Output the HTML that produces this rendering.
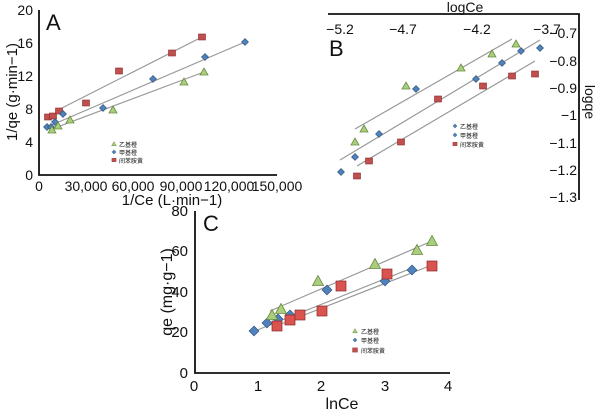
<!DOCTYPE html>
<html><head><meta charset="utf-8"><style>
html,body{margin:0;padding:0;background:#fff;width:600px;height:413px;overflow:hidden}
svg{display:block}
text{font-family:"Liberation Sans","Noto Sans CJK SC",sans-serif;fill:#111}
.t{font-size:14px}
.lg{font-size:6px}
.ln{stroke:#999;stroke-width:1.2}
.ax{stroke:#111;stroke-width:1.8;fill:none}
</style></head><body>
<svg width="600" height="413" viewBox="0 0 600 413">
<defs>
<g id="tri"><polygon points="0,-4 4,3 -4,3" fill="#a9cf7e" stroke="#6b8a3f" stroke-width="0.8"/></g>
<g id="dia"><polygon points="0,-3.5 3.5,0 0,3.5 -3.5,0" fill="#4f81bd" stroke="#2c4d74" stroke-width="0.6"/></g>
<g id="sq"><rect x="-3.5" y="-3" width="7" height="6" fill="#c0504d" stroke="#8a2a28" stroke-width="0.6"/></g>
<g id="triL"><polygon points="0,-5.5 5.5,4.5 -5.5,4.5" fill="#a9cf7e" stroke="#6b8a3f" stroke-width="0.8"/></g>
<g id="diaL"><polygon points="0,-5 5,0 0,5 -5,0" fill="#4f81bd" stroke="#2c4d74" stroke-width="0.6"/></g>
<g id="sqL"><rect x="-5" y="-5" width="10" height="10" fill="#d9534f" stroke="#8a2a28" stroke-width="0.7"/></g>
</defs>

<!-- Panel A -->
<path class="ax" d="M39,10 L39,175 L277,175"/>
<g class="t" text-anchor="end">
<text x="33" y="15">20</text><text x="33" y="48">16</text><text x="33" y="81">12</text>
<text x="33" y="114">8</text><text x="33" y="147">4</text><text x="33" y="180">0</text>
</g>
<g class="t" text-anchor="middle">
<text x="39" y="191">0</text><text x="86" y="191">30,000</text><text x="133" y="191">60,000</text>
<text x="181" y="191">90,000</text><text x="229" y="191">120,000</text><text x="277" y="191">150,000</text>
</g>
<text x="172" y="205" text-anchor="middle" style="font-size:15px">1/Ce (L·min−1)</text>
<text transform="translate(17,92) rotate(-90)" text-anchor="middle" style="font-size:15px">1/qe (g·min−1)</text>
<text x="46" y="30" style="font-size:22px">A</text>
<line class="ln" x1="58" y1="110" x2="202" y2="37"/>
<line class="ln" x1="47" y1="127" x2="245" y2="42"/>
<line class="ln" x1="52" y1="129" x2="204" y2="72"/>
<use href="#sq" x="48" y="117"/><use href="#sq" x="53" y="116"/><use href="#sq" x="59" y="111"/><use href="#sq" x="86" y="103"/><use href="#sq" x="119" y="71"/><use href="#sq" x="172" y="53"/><use href="#sq" x="202" y="37"/>
<use href="#dia" x="47" y="127"/><use href="#dia" x="51" y="127"/><use href="#dia" x="55" y="122"/><use href="#dia" x="63" y="114"/><use href="#dia" x="103" y="108"/><use href="#dia" x="153" y="79"/><use href="#dia" x="205" y="57"/><use href="#dia" x="245" y="42"/>
<use href="#tri" x="52" y="130"/><use href="#tri" x="58" y="126"/><use href="#tri" x="70" y="120"/><use href="#tri" x="113" y="110"/><use href="#tri" x="184" y="82"/><use href="#tri" x="204" y="72"/>
<g transform="translate(114,144) scale(0.6)"><use href="#tri"/></g>
<g transform="translate(114,152) scale(0.6)"><use href="#dia"/></g>
<g transform="translate(114,160) scale(0.6)"><use href="#sq"/></g>
<text class="lg" x="119" y="147">乙基橙</text><text class="lg" x="119" y="155">甲基橙</text><text class="lg" x="119" y="163">间苯胺黄</text>

<!-- Panel B -->
<path class="ax" d="M328,14 L579,14 L579,200"/>
<g class="t" text-anchor="middle">
<text x="340" y="34">−5.2</text><text x="403" y="34">−4.7</text><text x="477" y="34">−4.2</text><text x="547" y="34">−3.7</text>
</g>
<text x="465" y="12" text-anchor="middle" style="font-size:14px">logCe</text>
<g class="t" text-anchor="end">
<text x="577" y="38">−0.7</text><text x="577" y="66">−0.8</text><text x="577" y="93">−0.9</text><text x="577" y="120">−1</text>
<text x="577" y="148">−1.1</text><text x="577" y="175">−1.2</text><text x="577" y="202">−1.3</text>
</g>
<text transform="translate(585,102) rotate(90)" text-anchor="middle" style="font-size:14px">logqe</text>
<text x="329" y="56" style="font-size:22px">B</text>
<line class="ln" x1="355" y1="129" x2="512" y2="39"/>
<line class="ln" x1="340" y1="160" x2="540" y2="40"/>
<line class="ln" x1="357" y1="166" x2="535" y2="61"/>
<use href="#tri" x="355" y="142"/><use href="#tri" x="364" y="129"/><use href="#tri" x="406" y="86"/><use href="#tri" x="461" y="68"/><use href="#tri" x="492" y="54"/><use href="#tri" x="516" y="44"/>
<use href="#dia" x="341" y="172"/><use href="#dia" x="355" y="157"/><use href="#dia" x="379" y="134"/><use href="#dia" x="416" y="89"/><use href="#dia" x="476" y="79"/><use href="#dia" x="502" y="63"/><use href="#dia" x="521" y="51"/><use href="#dia" x="540" y="48"/>
<use href="#sq" x="357" y="176"/><use href="#sq" x="369" y="161"/><use href="#sq" x="401" y="142"/><use href="#sq" x="438" y="99"/><use href="#sq" x="483" y="86"/><use href="#sq" x="512" y="76"/><use href="#sq" x="535" y="74"/>
<g transform="translate(455,126) scale(0.6)"><use href="#dia"/></g>
<g transform="translate(455,135) scale(0.6)"><use href="#dia"/></g>
<g transform="translate(455,144) scale(0.6)"><use href="#sq"/></g>
<text class="lg" x="460" y="129">乙基橙</text><text class="lg" x="460" y="138">甲基橙</text><text class="lg" x="460" y="147">间苯胺黄</text>

<!-- Panel C -->
<path class="ax" d="M195,211 L195,373 L450,373"/>
<g class="t" text-anchor="end" style="font-size:15px">
<text x="188" y="216">80</text><text x="188" y="256">60</text><text x="188" y="297">40</text>
<text x="188" y="337">20</text><text x="188" y="378">0</text>
</g>
<g class="t" text-anchor="middle" style="font-size:15px">
<text x="194" y="391">0</text><text x="258" y="391">1</text><text x="321" y="391">2</text><text x="385" y="391">3</text><text x="448" y="391">4</text>
</g>
<text x="342" y="409" text-anchor="middle" style="font-size:16px">lnCe</text>
<text transform="translate(172,292) rotate(-90)" text-anchor="middle" style="font-size:16px">qe (mg·g−1)</text>
<text x="203" y="231" style="font-size:22px">C</text>
<line class="ln" x1="270" y1="311" x2="432" y2="241"/>
<line class="ln" x1="255" y1="331" x2="412" y2="268"/>
<line class="ln" x1="276" y1="326" x2="432" y2="265"/>
<use href="#diaL" x="254" y="331"/><use href="#diaL" x="267" y="323"/><use href="#diaL" x="278" y="319"/><use href="#diaL" x="290" y="315"/><use href="#diaL" x="327" y="290"/><use href="#diaL" x="385" y="281"/><use href="#diaL" x="412" y="270"/>
<use href="#sqL" x="277" y="326"/><use href="#sqL" x="290" y="320"/><use href="#sqL" x="300" y="315"/><use href="#sqL" x="322" y="311"/><use href="#sqL" x="341" y="286"/><use href="#sqL" x="387" y="274"/><use href="#sqL" x="432" y="266"/>
<use href="#triL" x="272" y="315"/><use href="#triL" x="281" y="309"/><use href="#triL" x="318" y="281"/><use href="#triL" x="375" y="264"/><use href="#triL" x="417" y="250"/><use href="#triL" x="432" y="241"/>
<g transform="translate(355,331) scale(0.6)"><use href="#tri"/></g>
<g transform="translate(355,340) scale(0.6)"><use href="#dia"/></g>
<g transform="translate(355,350) scale(0.7)"><use href="#sq"/></g>
<text class="lg" x="361" y="334">乙基橙</text><text class="lg" x="361" y="343">甲基橙</text><text class="lg" x="361" y="353">间苯胺黄</text>
</svg>
</body></html>
